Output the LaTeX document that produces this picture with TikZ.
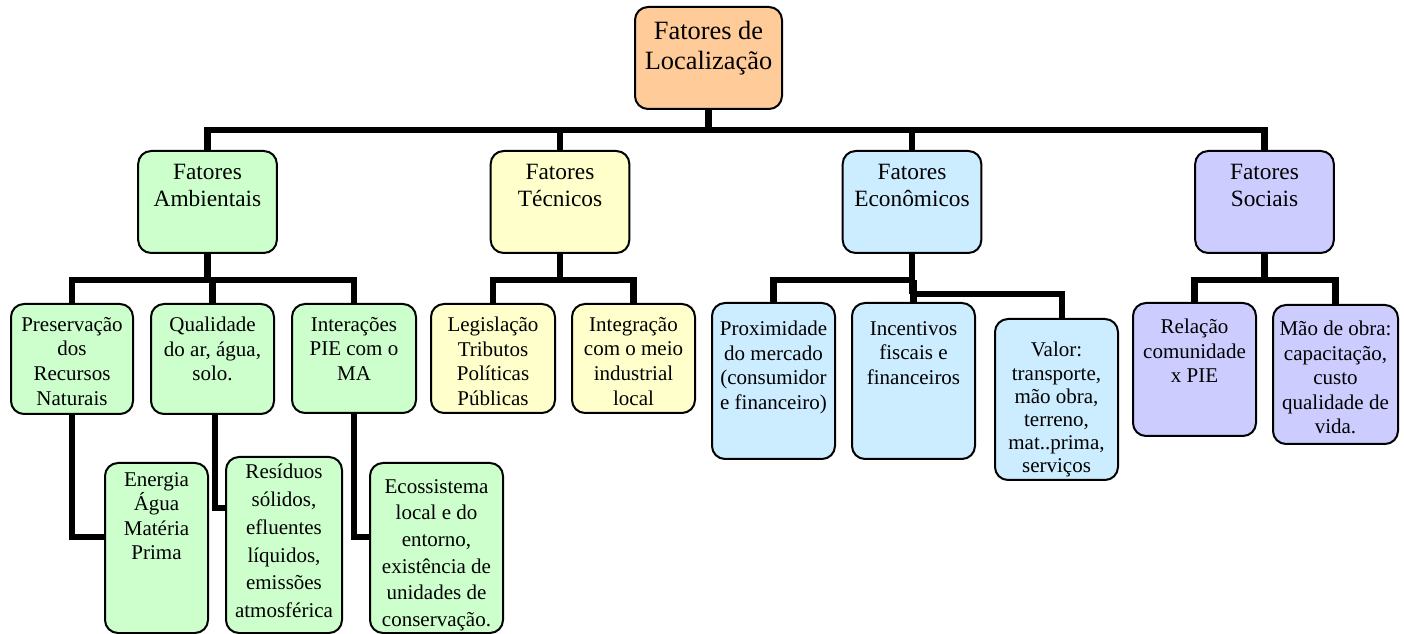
\documentclass[tikz,border=0pt]{standalone}
\usepackage{fontspec}
\setmainfont{Liberation Serif}
\usetikzlibrary{backgrounds}
\definecolor{cOr}{HTML}{FFCC99}
\definecolor{cGr}{HTML}{CCFFCC}
\definecolor{cYe}{HTML}{FFFFCC}
\definecolor{cBl}{HTML}{CCECFF}
\definecolor{cPu}{HTML}{CCCCFF}
\tikzset{
  box/.style={draw=black, line width=1.5pt, rounded corners=9.75pt, rectangle, inner sep=0pt},
  txt/.style={anchor=north, inner sep=0pt, align=center, font=\fontsize{15.75pt}{18.4pt}\selectfont},
  txtB/.style={anchor=north, inner sep=0pt, align=center, font=\fontsize{17.5pt}{20.25pt}\selectfont},
  txtT/.style={anchor=north, inner sep=0pt, align=center, font=\fontsize{19.8pt}{22.5pt}\selectfont},
  conn/.style={line width=4.8pt, draw=black}
}
\begin{document}
\begin{tikzpicture}[x=0.75pt, y=-0.75pt]
\useasboundingbox (0,0) rectangle (1404,634);
% level 1
\node[box, fill=cOr, minimum width=110.25pt, minimum height=76.5pt] (top) at (708.5,58) {};
% level 2
\node[box, fill=cGr, minimum width=104pt, minimum height=76.5pt] (amb) at (207.5,202) {};
\node[box, fill=cYe, minimum width=104pt, minimum height=76.5pt] (tec) at (560,202) {};
\node[box, fill=cBl, minimum width=104pt, minimum height=76.5pt] (eco) at (912,202) {};
\node[box, fill=cPu, minimum width=104pt, minimum height=76.5pt] (soc) at (1264.5,202) {};
% level 3
\node[box, fill=cGr, minimum width=91.5pt, minimum height=82.5pt] (pres) at (72,359) {};
\node[box, fill=cGr, minimum width=92.25pt, minimum height=82.5pt] (qual) at (212.5,359) {};
\node[box, fill=cGr, minimum width=93pt, minimum height=81.75pt] (inter) at (354,358.5) {};
\node[box, fill=cYe, minimum width=93pt, minimum height=81.75pt] (leg) at (493,358.5) {};
\node[box, fill=cYe, minimum width=92.25pt, minimum height=81.75pt] (integ) at (633.5,358.5) {};
\node[box, fill=cBl, minimum width=92.25pt, minimum height=117pt] (prox) at (773.5,381) {};
\node[box, fill=cBl, minimum width=92.25pt, minimum height=117pt] (inc) at (913.5,381) {};
\node[box, fill=cBl, minimum width=92.25pt, minimum height=120.75pt] (val) at (1056.5,399.5) {};
\node[box, fill=cPu, minimum width=92.25pt, minimum height=99.75pt] (rel) at (1194.5,369.5) {};
\node[box, fill=cPu, minimum width=93.75pt, minimum height=104.25pt] (mao) at (1335.5,374.5) {};
% level 4
\node[box, fill=cGr, minimum width=77.25pt, minimum height=127.5pt] (ener) at (156.5,548) {};
\node[box, fill=cGr, minimum width=87pt, minimum height=132pt] (res) at (284,545) {};
\node[box, fill=cGr, minimum width=99.75pt, minimum height=127.5pt] (ecos) at (436.5,548) {};
% texts
\node[txtT] (ttop) at ([yshift=-11.25pt]top.north) {Fatores de\\Localização};
\node[txtB] (tamb) at ([yshift=-10.5pt]amb.north) {Fatores\\Ambientais};
\node[txtB] (ttec) at ([yshift=-10.5pt]tec.north) {Fatores\\Técnicos};
\node[txtB] (teco) at ([yshift=-10.5pt]eco.north) {Fatores\\Econômicos};
\node[txtB] (tsoc) at ([yshift=-10.5pt]soc.north) {Fatores\\Sociais};
\node[txt] (tpres) at ([yshift=-10.5pt]pres.north) {Preservação\\dos\\Recursos\\Naturais};
\node[txt] (tqual) at ([yshift=-10.5pt]qual.north) {Qualidade\\do ar, água,\\solo.};
\node[txt] (tinter) at ([yshift=-10.5pt]inter.north) {Interações\\PIE com o\\MA};
\node[txt] (tleg) at ([yshift=-10.5pt]leg.north) {Legislação\\Tributos\\Políticas\\Públicas};
\node[txt] (tinteg) at ([yshift=-10.5pt]integ.north) {Integração\\com o meio\\industrial\\local};
\node[txt] (tprox) at ([yshift=-14.25pt]prox.north) {Proximidade\\do mercado\\(consumidor\\e financeiro)};
\node[txt] (tinc) at ([yshift=-14.25pt]inc.north) {Incentivos\\fiscais e\\financeiros};
\node[txt, font=\fontsize{15.75pt}{17.4pt}\selectfont] (tval) at ([yshift=-18pt]val.north) {Valor:\\transporte,\\mão obra,\\terreno,\\mat..prima,\\serviços};
\node[txt] (trel) at ([yshift=-12.75pt]rel.north) {Relação\\comunidade\\x PIE};
\node[txt] (tmao) at ([yshift=-12.75pt]mao.north) {Mão de obra:\\capacitação,\\custo\\qualidade de\\vida.};
\node[txt] (tener) at ([yshift=-7.5pt]ener.north) {Energia\\Água\\Matéria\\Prima};
\node[txt, font=\fontsize{15.75pt}{20.8pt}\selectfont] (tres) at ([yshift=-6pt]res.north) {Resíduos\\sólidos,\\efluentes\\líquidos,\\emissões\\atmosférica};
\node[txt, font=\fontsize{15.75pt}{20pt}\selectfont] (tecos) at ([yshift=-12.75pt]ecos.north) {Ecossistema\\local e do\\entorno,\\existência de\\unidades de\\conservação.};
% connectors
\begin{scope}[on background layer]
\coordinate (bus) at (708.5,130);
\draw[conn] (top.south) -- (bus);
\draw[conn] (amb.north) |- (bus);
\draw[conn] (soc.north) |- (bus);
\draw[conn] (tec.north) -- (tec.north |- bus);
\draw[conn] (eco.north) -- (eco.north |- bus);
% ambientais
\draw[conn] (amb.south) -- (amb.south |- 0,280);
\draw[conn] (pres.north) |- (inter.north |- 0,280) -- (inter.north);
\draw[conn] (qual.north) -- (qual.north |- 0,280);
\draw[conn] (pres.south) |- (ener.west |- 0,537);
\draw[conn] ([xshift=2pt]qual.south) |- (res.west |- 0,508);
\draw[conn] (inter.south) |- (ecos.west |- 0,537);
% tecnicos
\draw[conn] (tec.south) -- (tec.south |- 0,280);
\draw[conn] (leg.north) |- (integ.north |- 0,280) -- (integ.north);
% economicos
\draw[conn] (eco.south) -- (eco.south |- 0,294);
\draw[conn] (prox.north) |- (eco.south |- 0,280);
\draw[conn] (inc.north) -- (inc.north |- 0,280);
\draw[conn] (eco.south |- 0,294) -| ([xshift=4pt]val.north);
% sociais
\draw[conn] (soc.south) -- (soc.south |- 0,280);
\draw[conn] (rel.north) |- (mao.north |- 0,280) -- (mao.north);
\end{scope}
\end{tikzpicture}
\end{document}
